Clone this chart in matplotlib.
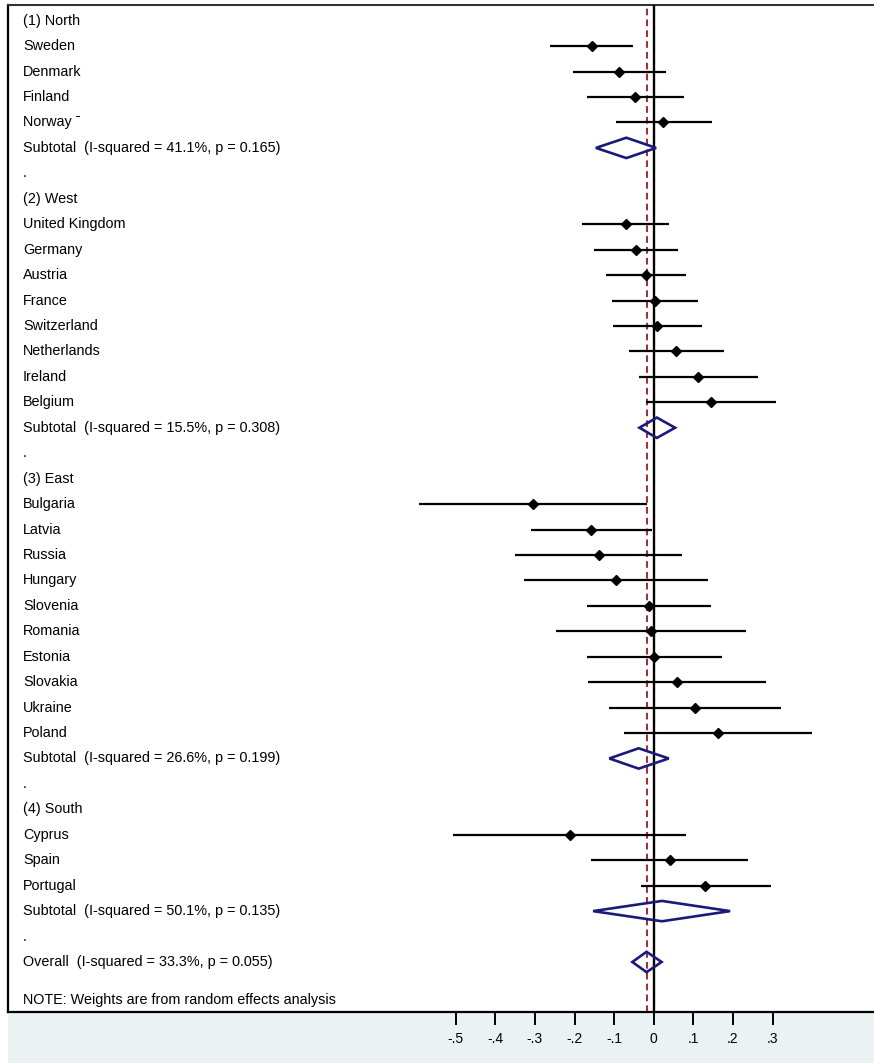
import numpy as np
import matplotlib.pyplot as plt
from matplotlib.patches import Polygon

plt.rcParams['font.family'] = ['Liberation Sans', 'DejaVu Sans']

#%% Study rows (label, estimate, lower CI, upper CI)
north = ['Sweden', 'Denmark', 'Finland', 'Norway \u02c9']
north_es = [-0.157, -0.088, -0.047, 0.024]
north_lo = [-0.261, -0.203, -0.168, -0.096]
north_hi = [-0.052, 0.031, 0.076, 0.146]

west = ['United Kingdom', 'Germany', 'Austria', 'France', 'Switzerland',
        'Netherlands', 'Ireland', 'Belgium']
west_es = [-0.071, -0.045, -0.020, 0.003, 0.008, 0.057, 0.112, 0.144]
west_lo = [-0.182, -0.150, -0.121, -0.106, -0.104, -0.062, -0.037, -0.019]
west_hi = [0.039, 0.061, 0.081, 0.113, 0.123, 0.177, 0.263, 0.309]

east = ['Bulgaria', 'Latvia', 'Russia', 'Hungary', 'Slovenia', 'Romania',
        'Estonia', 'Slovakia', 'Ukraine', 'Poland']
east_es = [-0.306, -0.158, -0.139, -0.095, -0.013, -0.008, 0.001, 0.058, 0.105, 0.162]
east_lo = [-0.592, -0.309, -0.350, -0.327, -0.168, -0.246, -0.168, -0.166, -0.112, -0.074]
east_hi = [-0.018, -0.005, 0.072, 0.137, 0.144, 0.234, 0.172, 0.284, 0.322, 0.400]

south = ['Cyprus', 'Spain', 'Portugal']
south_es = [-0.212, 0.041, 0.130]
south_lo = [-0.506, -0.158, -0.033]
south_hi = [0.081, 0.239, 0.296]

# pooled estimates: (estimate, lower, upper)
sub_north = (-0.069, -0.146, 0.006)
sub_west = (0.008, -0.036, 0.054)
sub_east = (-0.038, -0.112, 0.038)
sub_south = (0.021, -0.153, 0.193)
overall = (-0.018, -0.054, 0.020)

subtitles = ['Subtotal  (I-squared = 41.1%, p = 0.165)',
             'Subtotal  (I-squared = 15.5%, p = 0.308)',
             'Subtotal  (I-squared = 26.6%, p = 0.199)',
             'Subtotal  (I-squared = 50.1%, p = 0.135)']
overall_label = 'Overall  (I-squared = 33.3%, p = 0.055)'
note = 'NOTE: Weights are from random effects analysis'

xticks = [-0.5, -0.4, -0.3, -0.2, -0.1, 0, 0.1, 0.2, 0.3]
xticklabels = ['-.5', '-.4', '-.3', '-.2', '-.1', '0', '.1', '.2', '.3']

groups = [('(1) North', north, north_es, north_lo, north_hi, sub_north, subtitles[0]),
          ('(2) West', west, west_es, west_lo, west_hi, sub_west, subtitles[1]),
          ('(3) East', east, east_es, east_lo, east_hi, sub_east, subtitles[2]),
          ('(4) South', south, south_es, south_lo, south_hi, sub_south, subtitles[3])]

#%% Figure
W, H = 874, 1063
fig = plt.figure(figsize=(W / 100, H / 100), dpi=100)

# light band under the plot region
band = fig.add_axes([8 / W, 0, (W - 8) / W, 51 / H])
band.set_facecolor('#eaf2f3')
band.set_xticks([])
band.set_yticks([])
for s in band.spines.values():
    s.set_visible(False)

ax = fig.add_axes([8 / W, 51 / H, (W - 8) / W, (H - 56) / H])
ax.set_facecolor('white')

x0 = 653.7
scale = 396.0
ax.set_xlim((8 - x0) / scale, (W - x0) / scale)
row0, dy = 20.7, 25.44
ax.set_ylim((1012 - row0) / dy, (5 - row0) / dy)

label_x = (23 - x0) / scale
fs = 10.4
navy = '#1a1a7a'


def diamond(e, l, h, y):
    ax.add_patch(Polygon([[l, y], [e, y - 0.4], [h, y], [e, y + 0.4]],
                         closed=True, fill=False, edgecolor=navy, lw=1.9, zorder=4))


row = 0
for title, names, es, lo, hi, sub, subtitle in groups:
    ax.text(label_x, row, title, fontsize=fs, va='center')
    row += 1
    for name, e, l, h in zip(names, es, lo, hi):
        ax.text(label_x, row, name, fontsize=fs, va='center')
        ax.plot([l, h], [row, row], color='black', lw=1.6, zorder=4,
                solid_capstyle='butt')
        ax.plot(e, row, marker='D', color='black', markersize=4.8, zorder=5)
        row += 1
    ax.text(label_x, row, subtitle, fontsize=fs, va='center')
    diamond(sub[0], sub[1], sub[2], row)
    row += 1
    ax.text(label_x, row, '.', fontsize=fs, va='center')
    row += 1

# overall row
ax.text(label_x, row, overall_label, fontsize=fs, va='center')
diamond(overall[0], overall[1], overall[2], row)
ax.text(label_x, row + 1.5, note, fontsize=fs, va='center')

# reference lines
ax.axvline(0, color='black', lw=1.7, zorder=3)
ax.axvline(overall[0], color='#a0323c', lw=1.5, ls=(0, (3.2, 2.0)), zorder=2)

# axes frame
ax.spines['right'].set_visible(False)
ax.spines['top'].set_linewidth(1.5)
ax.spines['top'].set_color('#333333')
ax.spines['left'].set_linewidth(1.6)
ax.spines['bottom'].set_linewidth(1.6)
ax.set_yticks([])
ax.set_xticks(xticks)
ax.set_xticklabels(xticklabels, fontsize=10)
ax.tick_params(axis='x', direction='out', length=9.5, width=1.4, pad=5)

fig.savefig('out.png', dpi=100)
